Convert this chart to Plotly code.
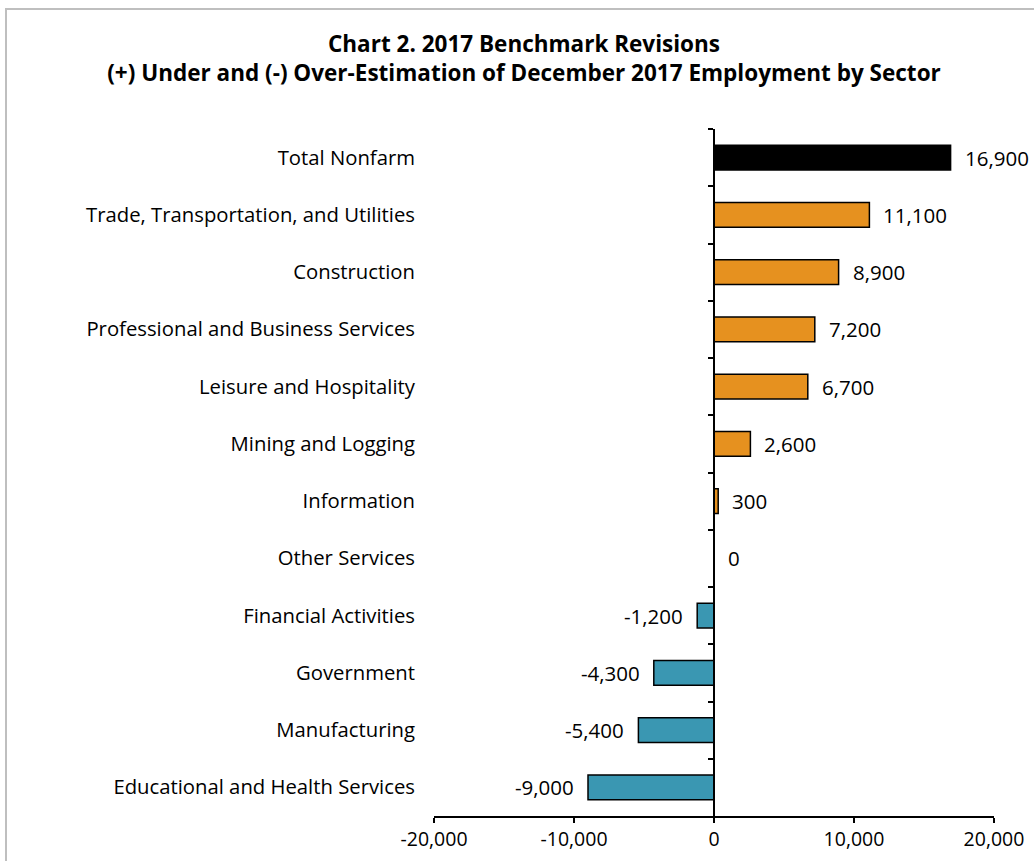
import plotly.graph_objects as go

# Sector revisions, listed top to bottom
sectors = [
    "Total Nonfarm",
    "Trade, Transportation, and Utilities",
    "Construction",
    "Professional and Business Services",
    "Leisure and Hospitality",
    "Mining and Logging",
    "Information",
    "Other Services",
    "Financial Activities",
    "Government",
    "Manufacturing",
    "Educational and Health Services",
]
revisions = [16900, 11100, 8900, 7200, 6700, 2600, 300, 0, -1200, -4300, -5400, -9000]

x_ticks = [-20000, -10000, 0, 10000, 20000]
x_tick_text = ["-20,000", "-10,000", "0", "10,000", "20,000"]

W, H = 1034, 861
M_L, M_R, M_T, M_B = 434, 40, 129, 45
FONT = "'Open Sans', Lato, sans-serif"


def bar_color(name, v):
    if name == "Total Nonfarm":
        return "#000000"
    return "#E6911F" if v >= 0 else "#3A97B2"


colors = [bar_color(s, v) for s, v in zip(sectors, revisions)]

fig = go.Figure()
fig.add_trace(go.Bar(
    x=revisions, y=sectors, orientation="h",
    marker=dict(color=colors, line=dict(color="#000000", width=1.5)),
    width=0.43, hoverinfo="x+y", showlegend=False,
))
# Invisible companion trace that carries the zero axis with boundary ticks
fig.add_trace(go.Scatter(
    x=[0] * len(sectors), y=sectors, yaxis="y2", mode="markers",
    marker=dict(opacity=0), hoverinfo="skip", showlegend=False,
))

# Value labels beside each bar
for s, v in zip(sectors, revisions):
    fig.add_annotation(
        x=v, y=s, xref="x", yref="y",
        text=f"{v:,}", showarrow=False,
        xanchor="right" if v < 0 else "left",
        xshift=-12 if v < 0 else 12,
        font=dict(family=FONT, size=20.5, color="#000000"),
    )

cat_range = [len(sectors) - 0.5, -0.5]

fig.update_layout(
    width=W, height=H,
    margin=dict(l=M_L, r=M_R, t=M_T, b=M_B, autoexpand=False),
    paper_bgcolor="#ffffff", plot_bgcolor="#ffffff",
    font=dict(family=FONT, size=20, color="#000000"),
    title=dict(
        text="<b>Chart 2. 2017 Benchmark Revisions</b><br>"
             "<b>(+) Under and (-) Over-Estimation of December 2017 Employment by Sector</b>",
        x=524 / W, xanchor="center", y=1 - 52 / H, yanchor="middle",
        font=dict(family=FONT, size=22.5, color="#000000"),
    ),
    xaxis=dict(
        range=[-20000, 20000], tickvals=x_ticks, ticktext=x_tick_text,
        showgrid=False, zeroline=False, automargin=False,
        showline=True, linecolor="#000000", linewidth=1.5,
        ticks="outside", ticklen=5, tickcolor="#000000", tickwidth=1.5,
        tickfont=dict(family=FONT, size=19.5, color="#000000"),
        fixedrange=True,
    ),
    yaxis=dict(
        type="category", categoryorder="array", categoryarray=sectors,
        range=cat_range, showgrid=False, zeroline=False, showline=False,
        automargin=False,
        ticks="", tickfont=dict(family=FONT, size=20.3, color="#000000"),
        ticklabelstandoff=18, fixedrange=True,
    ),
    yaxis2=dict(
        type="category", categoryorder="array", categoryarray=sectors,
        range=cat_range, overlaying="y", anchor="free", position=0.5,
        side="left", showgrid=False, zeroline=False, automargin=False,
        showline=True, linecolor="#000000", linewidth=1.5,
        ticks="outside", tickson="boundaries", ticklen=5,
        tickcolor="#000000", tickwidth=1.5, showticklabels=False,
        fixedrange=True,
    ),
    shapes=[dict(
        type="rect", xref="paper", yref="paper",
        x0=(6 - M_L) / (W - M_L - M_R), x1=1.2,
        y0=-0.2, y1=1 + (M_T - 9) / (H - M_T - M_B),
        line=dict(color="#BFBFBF", width=2), fillcolor="rgba(0,0,0,0)",
        layer="below",
    )],
)

fig.write_html("out.html")
